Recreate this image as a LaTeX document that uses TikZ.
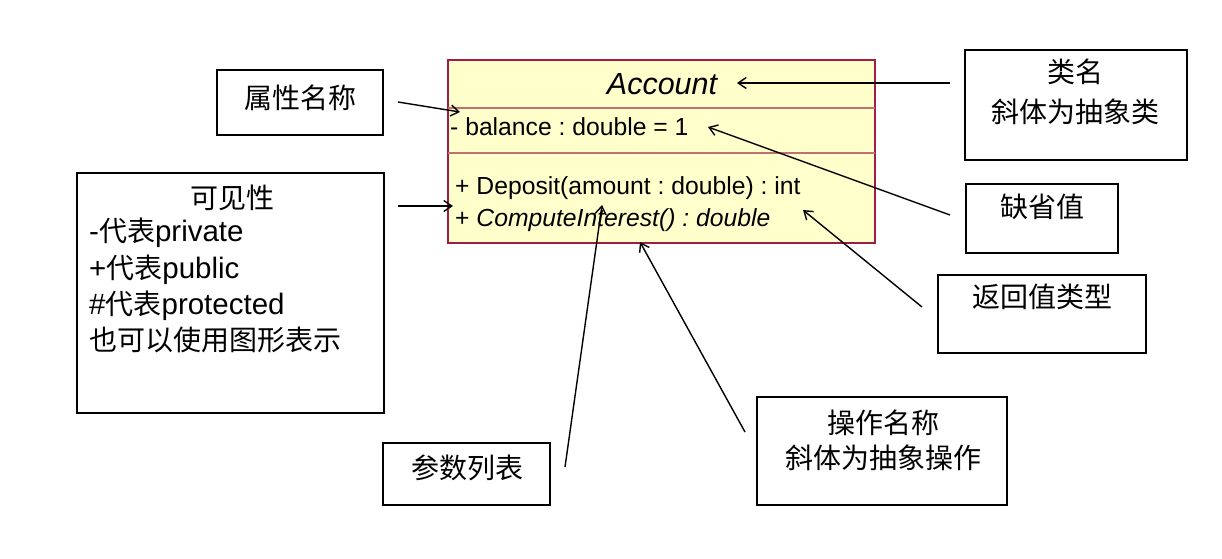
\documentclass[tikz,border=0pt]{standalone}
\usepackage{fontspec}
\setmainfont{Liberation Sans}
\newfontfamily\cjk{Noto Sans CJK SC}
\usetikzlibrary{arrows.meta,fit}
\frenchspacing
\definecolor{classfill}{HTML}{FFFFCC}
\definecolor{classline}{HTML}{A01C48}
\definecolor{sepline}{HTML}{C07070}
\newcommand{\cjkw}[1]{{\cjk\fontsize{28}{36.3}\selectfont #1}}
\tikzset{
  notebox/.style={draw=black, line width=2.4pt, inner sep=0pt},
  cjktext/.style={font=\cjk\fontsize{28}{36}\selectfont, inner sep=0pt, align=center},
  umltext/.style={font=\fontsize{24.7}{28}\selectfont, inner sep=0pt, anchor=west},
  pointer/.style={draw=black, line width=1.4pt, -{Straight Barb[length=8pt,width=11pt,line width=1.4pt]}},
}
\begin{document}
\begin{tikzpicture}[x=1pt, y={(0pt,-1pt)}]
\useasboundingbox (0,0) rectangle (1222,558);

% class box
\node[draw=classline, fill=classfill, line width=1.8pt, inner sep=0pt, fit={(448,60) (875,243)}] (account) {};
\coordinate (sepAl) at (448,108); \coordinate (sepAr) at (875,108);
\coordinate (sepBl) at (448,153); \coordinate (sepBr) at (875,153);
\draw[sepline, line width=1.4pt] (sepAl) -- (sepAr);
\draw[sepline, line width=1.4pt] (sepBl) -- (sepBr);
\node[font=\itshape\fontsize{30.5}{34}\selectfont, inner sep=0pt] (clsname) at (662,84) {Account};
\node[umltext] (attr) at (450,127) {- balance : double = 1};
\node[umltext] (op1) at (455,188) {+ Deposit(amount : double) : int};
\node[umltext] (op2) at (455,220) {+ \itshape ComputeInterest() : double};

% note boxes
\node[notebox, fit={(217,70) (383,135)}] (attrbox) {};
\node[cjktext] (attrtxt) at (300,98) {属性名称};

\node[notebox, fit={(77,173) (384,413)}] (visbox) {};
\node[cjktext] (vistitle) at (232,198) {可见性};
\node[cjktext, align=left, anchor=north west, font=\fontsize{29.5}{36.3}\selectfont] (vislist) at (89,218)
  {-\cjkw{代表}private\\+\cjkw{代表}public\\\#\cjkw{代表}protected\\\cjkw{也可以使用图形表示}};

\node[notebox, fit={(965,50) (1187,160)}] (clsbox) {};
\node[cjktext, font=\cjk\fontsize{28}{40}\selectfont] (clstxt) at (1075,92) {类名\\斜体为抽象类};

\node[notebox, fit={(966,184) (1118,253)}] (defbox) {};
\node[cjktext] (deftxt) at (1042,207) {缺省值};

\node[notebox, fit={(938,275) (1146,353)}] (retbox) {};
\node[cjktext] (rettxt) at (1042,297) {返回值类型};

\node[notebox, fit={(383,443) (550,505)}] (parbox) {};
\node[cjktext] (partxt) at (467,468) {参数列表};

\node[notebox, fit={(757,397) (1007,505)}] (opbox) {};
\node[cjktext, font=\cjk\fontsize{28}{35}\selectfont] (optxt) at (883,440.5) {操作名称\\斜体为抽象操作};

% connector ends
\coordinate (a1s) at (398,102); \coordinate (a1e) at (460,112);
\coordinate (a2s) at (398,206); \coordinate (a2e) at (453,206);
\coordinate (a3s) at (950,83);  \coordinate (a3e) at (737,83);
\coordinate (a4s) at (950,215); \coordinate (a4e) at (708,127);
\coordinate (a5s) at (922,307); \coordinate (a5e) at (803,210);
\coordinate (a6s) at (565,467); \coordinate (a6e) at (602,205);
\coordinate (a7s) at (745,432); \coordinate (a7e) at (640,242);

\draw[pointer] (a1s) -- (a1e);
\draw[pointer] (a2s) -- (a2e);
\draw[pointer] (a3s) -- (a3e);
\draw[pointer] (a4s) -- (a4e);
\draw[pointer] (a5s) -- (a5e);
\draw[pointer] (a6s) -- (a6e);
\draw[pointer] (a7s) -- (a7e);
\end{tikzpicture}
\end{document}
